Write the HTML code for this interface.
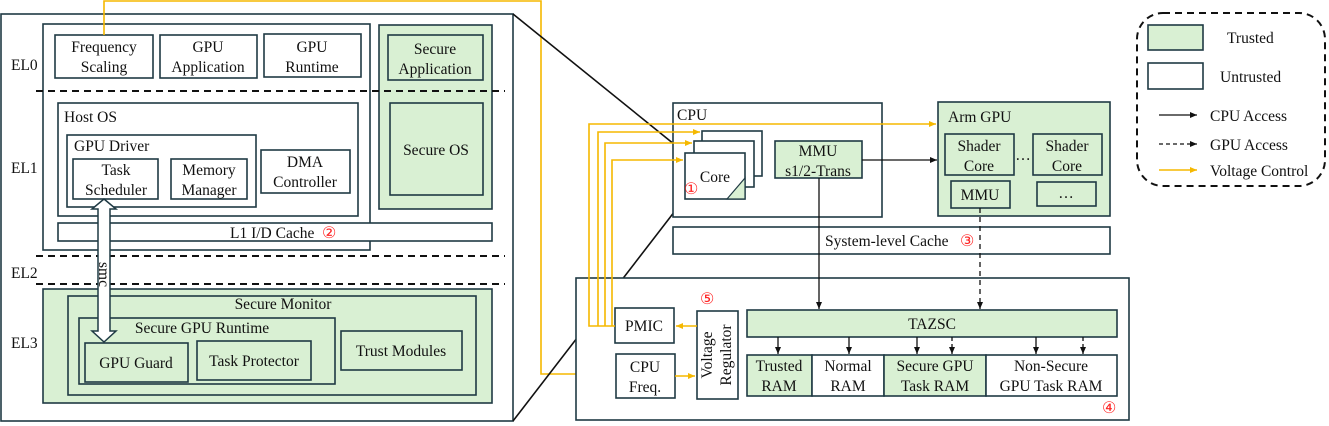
<!DOCTYPE html>
<html><head><meta charset="utf-8"><style>
body{margin:0;background:#fff}
svg{display:block}
text{font-family:"Liberation Serif",serif;font-size:15.5px;fill:#111}
.b{fill:#fff;stroke:#1f3a44;stroke-width:1.6}
.g{fill:#d9f0d3;stroke:#1f3a44;stroke-width:1.6}
.y{fill:none;stroke:#f5b800;stroke-width:1.6}
.k{fill:none;stroke:#111;stroke-width:1.3}
.d{fill:none;stroke:#111;stroke-width:1.6}
.r{fill:#f22;font-size:16px}
</style></head><body>
<svg width="1329" height="426" viewBox="0 0 1329 426">
<defs>
<marker id="ak" markerWidth="8" markerHeight="8" refX="7" refY="4" orient="auto" markerUnits="userSpaceOnUse"><path d="M0,1 L7,4 L0,7z" fill="#111"/></marker>
<marker id="ay" markerWidth="8" markerHeight="8" refX="7" refY="4" orient="auto" markerUnits="userSpaceOnUse"><path d="M0,1 L7,4 L0,7z" fill="#f5b800"/></marker>
</defs>
<rect class="b" x="1" y="14" width="512" height="407"/>
<rect class="b" x="43" y="24" width="327" height="226"/>
<rect class="g" x="379" y="25" width="113" height="184"/>
<rect class="b" x="55" y="35" width="98" height="43"/>
<text x="104" y="52" text-anchor="middle">Frequency</text><text x="104" y="72" text-anchor="middle">Scaling</text>
<rect class="b" x="160" y="35" width="97" height="43"/>
<text x="208" y="52" text-anchor="middle">GPU</text><text x="208" y="72" text-anchor="middle">Application</text>
<rect class="b" x="264" y="34" width="97" height="43"/>
<text x="312" y="52" text-anchor="middle">GPU</text><text x="312" y="72" text-anchor="middle">Runtime</text>
<rect class="g" x="388" y="35" width="95" height="45"/>
<text x="435" y="54" text-anchor="middle">Secure</text><text x="435" y="74" text-anchor="middle">Application</text>
<rect class="g" x="390" y="103" width="93" height="92"/>
<text x="436" y="155" text-anchor="middle">Secure OS</text>
<g stroke="#111" stroke-width="2" stroke-dasharray="7,5"><line x1="36" y1="91" x2="505" y2="91"/><line x1="36" y1="256" x2="505" y2="256"/><line x1="36" y1="284" x2="505" y2="284"/></g>
<text x="11" y="70">EL0</text><text x="11" y="173">EL1</text><text x="11" y="278">EL2</text><text x="11" y="348">EL3</text>
<rect class="b" x="58" y="103" width="300" height="113"/>
<text x="64" y="122">Host OS</text>
<rect class="b" x="67" y="135" width="189" height="72"/>
<text x="74" y="151">GPU Driver</text>
<rect class="b" x="73" y="159" width="85" height="40"/>
<text x="116" y="175" text-anchor="middle">Task</text><text x="116" y="195" text-anchor="middle">Scheduler</text>
<rect class="b" x="171" y="159" width="76" height="40"/>
<text x="209" y="175" text-anchor="middle">Memory</text><text x="209" y="195" text-anchor="middle">Manager</text>
<rect class="b" x="261" y="150" width="89" height="43"/>
<text x="305" y="167" text-anchor="middle">DMA</text><text x="305" y="187" text-anchor="middle">Controller</text>
<rect class="b" x="58" y="223" width="434" height="18"/>
<text x="230" y="238">L1 I/D Cache</text><text class="r" x="322" y="238">②</text>
<rect class="g" x="43" y="289" width="449" height="114"/>
<rect class="g" x="68" y="296" width="408" height="99"/>
<text x="283" y="309" text-anchor="middle">Secure Monitor</text>
<rect class="g" x="79" y="318" width="256" height="66"/>
<text x="202" y="333" text-anchor="middle">Secure GPU Runtime</text>
<rect class="g" x="85" y="343" width="103" height="39"/>
<text x="136" y="368" text-anchor="middle">GPU Guard</text>
<rect class="g" x="197" y="341" width="114" height="39"/>
<text x="254" y="366" text-anchor="middle">Task Protector</text>
<rect class="g" x="341" y="331" width="121" height="39"/>
<text x="401" y="356" text-anchor="middle">Trust Modules</text>
<path d="M104,199 L116,209 L110,209 L110,331 L116,331 L104,342 L92,331 L98,331 L98,209 L92,209 Z" fill="#fff" stroke="#1f3a44" stroke-width="1.5"/>
<text x="0" y="0" transform="translate(99,262) rotate(90)" font-size="13">smc</text>
<path class="y" d="M104,35 V1 H541 V374 H612" marker-end="url(#ay)"/>
<line class="d" x1="513" y1="14" x2="685" y2="153"/>
<line class="d" x1="513" y1="421" x2="685" y2="198"/>
<rect class="b" x="673" y="103" width="209" height="114"/>
<text x="677" y="120">CPU</text>
<rect class="b" x="702" y="131" width="60" height="45"/>
<rect class="b" x="694" y="141" width="60" height="46"/>
<rect class="b" x="685" y="153" width="60" height="46"/>
<path d="M745,178 L745,199 L727,199 Z" fill="#d9f0d3" stroke="#1f3a44" stroke-width="1.2"/>
<text x="715" y="182" text-anchor="middle">Core</text><text class="r" x="684" y="194">①</text>
<rect class="g" x="775" y="141" width="87" height="37"/>
<text x="818" y="156" text-anchor="middle">MMU</text><text x="818" y="176" text-anchor="middle">s1/2-Trans</text>
<rect class="g" x="938" y="102" width="172" height="114"/>
<text x="948" y="122">Arm GPU</text>
<rect class="g" x="945" y="134" width="69" height="41"/>
<text x="979" y="151" text-anchor="middle">Shader</text><text x="979" y="171" text-anchor="middle">Core</text>
<text x="1023" y="160" text-anchor="middle">…</text>
<rect class="g" x="1033" y="134" width="69" height="41"/>
<text x="1067" y="151" text-anchor="middle">Shader</text><text x="1067" y="171" text-anchor="middle">Core</text>
<rect class="g" x="951" y="181" width="59" height="27"/>
<text x="980" y="200" text-anchor="middle">MMU</text>
<rect class="g" x="1037" y="182" width="59" height="24"/>
<text x="1066" y="198" text-anchor="middle">…</text>
<rect class="b" x="673" y="227" width="437" height="27"/>
<text x="825" y="246">System-level Cache</text><text class="r" x="960" y="246">③</text>
<rect class="b" x="576" y="278" width="553" height="142"/>
<rect class="b" x="615" y="308" width="59" height="35"/>
<text x="644" y="331" text-anchor="middle">PMIC</text>
<rect class="b" x="616" y="354" width="59" height="44"/>
<text x="645" y="372" text-anchor="middle">CPU</text><text x="645" y="392" text-anchor="middle">Freq.</text>
<rect class="b" x="697" y="311" width="41" height="88"/>
<text transform="translate(712,355) rotate(-90)" text-anchor="middle">Voltage</text>
<text transform="translate(731,355) rotate(-90)" text-anchor="middle">Regulator</text>
<text class="r" x="700" y="304">⑤</text>
<rect class="g" x="747" y="310" width="370" height="27"/>
<text x="932" y="329" text-anchor="middle">TAZSC</text>
<rect class="g" x="747" y="355" width="65" height="41"/>
<text x="779" y="371" text-anchor="middle">Trusted</text><text x="779" y="391" text-anchor="middle">RAM</text>
<rect class="b" x="812" y="355" width="72" height="41"/>
<text x="848" y="371" text-anchor="middle">Normal</text><text x="848" y="391" text-anchor="middle">RAM</text>
<rect class="g" x="884" y="355" width="102" height="41"/>
<text x="935" y="371" text-anchor="middle">Secure GPU</text><text x="935" y="391" text-anchor="middle">Task RAM</text>
<rect class="b" x="986" y="355" width="131" height="41"/>
<text x="1051" y="371" text-anchor="middle">Non-Secure</text><text x="1051" y="391" text-anchor="middle">GPU Task RAM</text>
<text class="r" x="1102" y="413">④</text>
<line class="k" x1="819" y1="178" x2="819" y2="309" marker-end="url(#ak)"/>
<line class="k" x1="862" y1="160" x2="937" y2="160" marker-end="url(#ak)"/>
<line class="k" x1="980" y1="208" x2="980" y2="309" stroke-dasharray="5,4" marker-end="url(#ak)"/>
<g class="k"><line x1="778" y1="337" x2="778" y2="354" marker-end="url(#ak)"/><line x1="849" y1="337" x2="849" y2="354" marker-end="url(#ak)"/><line x1="917" y1="337" x2="917" y2="354" marker-end="url(#ak)"/><line x1="1036" y1="337" x2="1036" y2="354" marker-end="url(#ak)"/></g>
<g class="k" stroke-dasharray="4,3"><line x1="952" y1="337" x2="952" y2="354" marker-end="url(#ak)"/><line x1="1083" y1="337" x2="1083" y2="354" marker-end="url(#ak)"/></g>
<path class="y" d="M615,326 H589 V124 H936" marker-end="url(#ay)"/>
<path class="y" d="M598,326 V132 H700" marker-end="url(#ay)"/>
<path class="y" d="M605,326 V143 H692" marker-end="url(#ay)"/>
<path class="y" d="M612,326 V160 H683" marker-end="url(#ay)"/>
<line class="y" x1="697" y1="326" x2="676" y2="326" marker-end="url(#ay)"/>
<line class="y" x1="675" y1="376" x2="695" y2="376" marker-end="url(#ay)"/>
<rect x="1137" y="13" width="188" height="173" rx="26" fill="none" stroke="#111" stroke-width="2" stroke-dasharray="7,5"/>
<rect class="g" x="1148" y="25" width="55" height="25"/>
<text x="1227" y="43">Trusted</text>
<rect class="b" x="1148" y="63" width="55" height="26"/>
<text x="1220" y="82">Untrusted</text>
<line class="k" x1="1159" y1="115" x2="1197" y2="115" marker-end="url(#ak)"/>
<text x="1210" y="121">CPU Access</text>
<line class="k" x1="1159" y1="144" x2="1197" y2="144" stroke-dasharray="4,3" marker-end="url(#ak)"/>
<text x="1210" y="150">GPU Access</text>
<line class="y" x1="1159" y1="170" x2="1197" y2="170" marker-end="url(#ay)"/>
<text x="1210" y="176">Voltage Control</text>
</svg>
</body></html>
